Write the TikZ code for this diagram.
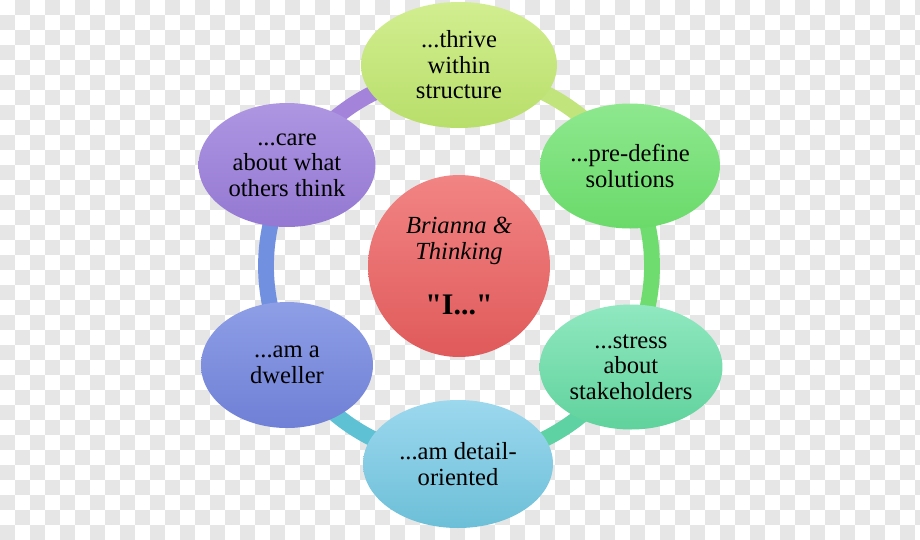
\documentclass[tikz,border=0pt]{standalone}
\usepackage{fontspec}
\setmainfont{Liberation Serif}
\usetikzlibrary{shapes.geometric}
\definecolor{CheckGray}{HTML}{E6E6E6}
\definecolor{ThriveTop}{HTML}{D2EE90}
\definecolor{ThriveBot}{HTML}{B8DE6A}
\definecolor{DefineTop}{HTML}{8EE88E}
\definecolor{DefineBot}{HTML}{6ADA6A}
\definecolor{StressTop}{HTML}{90E8C0}
\definecolor{StressBot}{HTML}{60D29C}
\definecolor{DetailTop}{HTML}{9CD8EE}
\definecolor{DetailBot}{HTML}{6CBFD8}
\definecolor{DwellTop}{HTML}{8E9EE6}
\definecolor{DwellBot}{HTML}{6F80D6}
\definecolor{CareTop}{HTML}{AE96E2}
\definecolor{CareBot}{HTML}{9478D2}
\definecolor{HubTop}{HTML}{F28484}
\definecolor{HubBot}{HTML}{E05A5A}
\definecolor{RingThrive}{HTML}{C2E47C}
\definecolor{RingDefine}{HTML}{6EDC6E}
\definecolor{RingStress}{HTML}{5ED2A2}
\definecolor{RingDetail}{HTML}{5EC2D4}
\definecolor{RingDwell}{HTML}{7290E0}
\definecolor{RingCare}{HTML}{A384DA}
\pgfdeclarelayer{checks}
\pgfdeclarelayer{ringlayer}
\pgfsetlayers{checks,ringlayer,main}

\begin{document}
\begin{tikzpicture}[x=0.02cm,y=-0.02cm,
    bubble/.style n args={4}{ellipse, inner sep=0pt, align=center,
      minimum width=#3*0.5691pt, minimum height=#4*0.5691pt, top color=#1, bottom color=#2,
      font=\fontsize{14}{14.5}\selectfont},
    ringband/.style={line width=9pt, line cap=butt}]
  \useasboundingbox (0,0) rectangle (920,539);
  % transparency checkerboard behind everything
  \begin{pgfonlayer}{checks}
    \fill[white] (0,0) rectangle (920,539);
    \clip (0,0) rectangle (920,539);
    \foreach \i in {0,...,61} {
      \foreach \j in {0,...,35} {
        \pgfmathparse{int(mod(\i+\j,2))}
        \ifnum\pgfmathresult=1
          \fill[CheckGray] (\i*15,\j*15) rectangle ++(15,15);
        \fi
      }
    }
  \end{pgfonlayer}
  % hub and the six statements
  \node[circle, inner sep=0pt, minimum size=182*0.5691pt, top color=HubTop, bottom color=HubBot,
    align=center, font=\fontsize{14}{14.5}\selectfont] (hub) at (459,266)
    {\itshape Brianna \&\\ \itshape Thinking\\[17pt]
     {\bfseries\fontsize{17}{20}\selectfont \textquotedbl I...\textquotedbl}};
  \node[bubble={ThriveTop}{ThriveBot}{196}{126}] (thrive) at (459,65) {...thrive\\within\\structure};
  \node[bubble={DefineTop}{DefineBot}{180}{125}] (define) at (630,166) {...pre-define\\solutions};
  \node[bubble={StressTop}{StressBot}{183}{125}] (stress) at (631,367) {...stress\\about\\stakeholders};
  \node[bubble={DetailTop}{DetailBot}{190}{128}] (detail) at (458,464) {...am detail-\\oriented};
  \node[bubble={DwellTop}{DwellBot}{172}{126}] (dwell) at (287,365) {...am a\\dweller};
  \node[bubble={CareTop}{CareBot}{177}{124}] (care) at (287,165) {...care\\about what\\others think};
  % ring segments, one per statement, going clockwise
  \begin{pgfonlayer}{ringlayer}
    \foreach \a/\col in {-90/RingThrive,-30/RingDefine,30/RingStress,90/RingDetail,150/RingDwell,210/RingCare} {
      \draw[ringband,\col] (hub.center) ++(\a:193) arc[start angle=\a, end angle=\a+60, radius=193];
    }
  \end{pgfonlayer}
\end{tikzpicture}
\end{document}
